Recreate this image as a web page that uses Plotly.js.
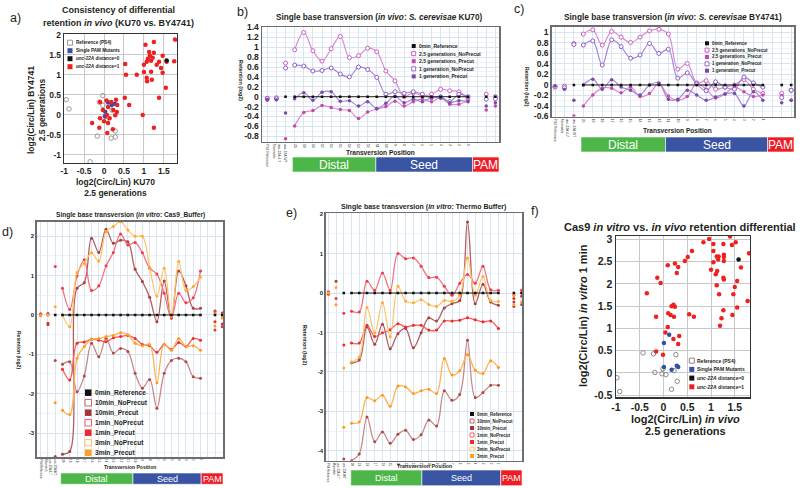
<!DOCTYPE html>
<html>
<head>
<meta charset="utf-8">
<script src="https://cdn.plot.ly/plotly-3.0.1.min.js"></script>
<style>body{margin:0;background:#fff}#chart{width:800px;height:488px}</style>
</head>
<body>
<div id="chart"></div>
<script>
const FONT = 'Liberation Sans, Arial, sans-serif';
const W = 800, H = 488;

// columns of the transversion panels (b-e): 3 controls, positions 20..1, gap, PAM
const colLabels = ['PS4 Reference', 'unc-22A 4-7<br>Mismatch', 'unc-22A WT',
  '20', '19', '18', '17', '16', '15', '14', '13', '12', '11', '10', '9', '8', '7', '6', '5', '4', '3', '2', '1',
  '', '', ''];
const regions = ['Distal', 'Seed', 'PAM'];
const regionColors = ['#4cb748', '#3a54a4', '#ee1d25'];

// a) KU70 vs BY4741
const aRefX = [-0.95, -0.88, -0.03, -0.12, -0.03, 0.2, 0.05, 0.28, 0.28, 0.18, -0.17, -0.35];
const aRefY = [0.38, 0.15, 0.48, 0.32, 0.24, 0.12, -0.14, -0.4, -0.55, -0.58, -0.53, -1.17];
const aPamX = [0.1, 0.27, 0.03, 0.02, 0.19];
const aPamY = [0.31, 0.28, 0.08, -0.03, 0.25];
const aDist0X = [1.57];
const aDist0Y = [1.36];
const aDist1X = [1.04, 1.25, 1.13, 1.25, 1.15, 1.22, 1.1, 1.47, 1.07, 1.18, 1.38, 1.57, 1.0, 1.32, 1.43, 1.18, 1.47, 1.0, 0.55, 0.82,
  1.07, 1.08, 1.2, 0.53, 1.55, 1.38, 0.97, 1.25, 0.52, 0.63, 0.3, -0.1, 0.06, 0.18, 0.33, 0.1, 0.23, 0.32, -0.03, 0.07,
  0.28, -0.1, 0.14, 0.0, 0.1, -0.3, -0.12, 0.08, 0.22, 1.78, 1.76];
const aDist1Y = [1.75, 1.82, 1.57, 1.55, 1.48, 1.43, 1.4, 1.48, 1.33, 1.35, 1.33, 1.33, 1.25, 1.25, 1.17, 1.08, 1.05, 1.07, 1.0, 1.0,
  0.93, 0.84, 0.88, 1.27, 0.68, 0.43, 0.0, -0.32, 0.43, 0.25, 0.38, 0.32, 0.36, 0.32, 0.25, 0.2, 0.12, 0.07, 0.12, 0.0,
  -0.01, -0.08, -0.08, -0.16, -0.2, -0.2, -0.32, -0.45, -0.36, 1.88, 1.34];
const aXTicks = [-1, -0.5, 0, 0.5, 1, 1.5];
const aYTicks = [-1, -0.5, 0, 0.5, 1, 1.5, 2];

// reference row (0min / normalised)
const refVals = [null, null, 0, 0, 0, 0, 0, 0, 0, 0, 0, 0, 0, 0, 0, 0, 0, 0, 0, 0, 0, 0, 0, null, 0, 0];

// b) in vivo KU70
const bNo25 = [-0.04, -0.02, 0.68, 0.95, 1.30, 0.93, 0.72, 0.97, 1.22, 0.79, 0.83, 0.98, 0.91, 0.52, 0.32, 0.0, 0.08, 0.02, 0.05, 0.15, 0.12, 0.1, -0.05, null, 0.05, 0.0];
const bPre25 = [-0.07, -0.05, -0.85, -0.59, -0.32, -0.28, -0.18, -0.22, -0.26, -0.28, -0.44, -0.31, -0.25, -0.2, -0.09, -0.19, -0.1, -0.05, -0.1, -0.02, -0.15, -0.15, -0.08, null, -0.27, -0.19];
const bNo1 = [-0.03, -0.04, 0.58, 0.64, 0.62, 0.52, 0.53, 0.58, 0.46, 0.40, 0.6, 0.55, 0.39, 0.05, 0.1, 0.07, 0.1, 0.05, -0.02, 0.0, -0.1, 0.05, 0.0, null, -0.05, -0.04];
const bPre1 = [-0.05, -0.06, -0.33, -0.04, 0.08, -0.07, 0.09, 0.1, -0.09, -0.08, -0.19, -0.1, -0.24, -0.13, 0.01, -0.12, -0.05, -0.1, -0.02, -0.03, -0.12, -0.08, -0.1, null, -0.19, -0.12];
const bYTicks = [-0.8, -0.6, -0.4, -0.2, 0, 0.2, 0.4, 0.6, 0.8, 1, 1.2, 1.4];

// c) in vivo BY4741
const cNo25 = [-0.03, -0.02, 0.79, 0.97, 1.05, 0.76, 1.02, 0.91, 0.81, 0.91, 1.03, 1.06, 0.97, 0.3, 0.41, 0.04, 0.08, -0.08, -0.04, 0.0, 0.1, -0.08, -0.16, null, -0.16, -0.1];
const cPre25 = [-0.04, -0.06, -0.59, -0.4, -0.19, -0.06, -0.06, -0.15, -0.04, -0.22, -0.16, 0.03, -0.21, -0.29, -0.22, 0.03, -0.08, -0.25, -0.17, -0.04, -0.13, -0.22, -0.19, null, -0.2, -0.29];
const cNo1 = [-0.04, -0.05, 0.77, 0.76, 0.84, 0.38, 0.86, 0.73, 0.51, 0.57, 0.79, 0.6, 0.68, 0.13, 0.23, 0.02, -0.11, 0.06, -0.04, -0.08, 0.15, 0.04, -0.04, null, -0.24, -0.1];
const cPre1 = [-0.02, -0.08, -0.29, 0.0, 0.11, -0.08, 0.1, -0.04, -0.1, -0.19, 0.0, 0.04, -0.27, -0.27, -0.1, -0.19, -0.29, -0.23, -0.17, -0.16, -0.4, -0.13, -0.29, null, -0.34, -0.29];
const cYTicks = [-0.6, -0.4, -0.2, 0, 0.2, 0.4, 0.6, 0.8, 1];

// d) in vitro Cas9 buffer
const d10No = [0.02, 0.04, -3.6, -3.54, -3.47, 0.68, 0.82, 1.95, 1.59, 2.18, 1.82, 1.9, 1.86, 1.16, 0.85, 0.45, -0.17, 0.86, -0.08, 1.12, 0.74, 0.17, 0.17, null, 0.1, 0.05];
const d10Pre = [0.0, -0.25, -1.16, -1.25, -1.19, -1.95, -1.55, -0.72, -1.06, -0.59, -0.97, -0.85, -0.93, -1.48, -1.86, -1.64, -2.37, -1.48, -1.16, -1.1, -1.19, -1.57, -1.61, null, -0.38, -0.3];
const d1No = [0.03, 0.0, 1.23, 0.68, 0.14, 0.99, 1.4, 0.62, 0.74, 1.25, 1.59, 2.06, 1.78, 1.84, 1.58, 1.19, 1.04, 0.55, -0.08, 0.55, 0.31, 0.44, 1.12, null, 0.08, 0.02];
const d1Pre = [null, -0.21, null, -1.38, -1.65, -0.72, -0.69, -0.62, -0.64, -0.68, -0.58, -0.55, -0.52, -0.6, -0.75, -0.78, -0.95, -0.75, -0.88, -0.7, -0.8, -0.6, -0.64, null, -0.17, -0.23];
const d3No = [0.0, 0.0, 0.21, 0.0, -0.3, 1.08, 1.31, 1.58, 1.37, 2.12, 2.25, 2.37, 2.16, 2.0, 2.0, 1.21, 0.48, 1.19, -0.04, 1.36, 0.62, 0.72, 0.96, null, 0.03, 0.0];
const d3Pre = [-0.02, null, -2.23, -2.42, -2.53, -1.1, -0.8, -0.62, -0.6, -0.55, -0.52, -0.45, -0.5, -0.72, -0.78, -0.75, -1.72, -0.75, -0.9, -0.6, -0.8, -0.78, -0.9, null, -0.28, -0.08];
const dYTicks = [-3, -2, -1, 0, 1, 2];

// e) in vitro Thermo buffer
const e10No = [null, 0.3, null, -1.77, -1.7, -0.86, -1.3, -0.79, -1.41, -1.03, -0.9, -1.39, -1.01, -0.63, -0.71, -0.38, -0.27, -0.19, 1.8, -0.27, 0.22, -0.23, -0.31, null, -0.23, -0.08];
const e10Pre = [null, null, -4.21, -4.25, -4.08, -3.14, -3.77, -3.52, -3.81, -3.58, -3.48, -3.71, -3.59, -3.22, -3.37, -2.48, -2.72, -2.57, -1.2, -2.65, -2.52, -2.34, -2.34, null, -0.34, -0.29];
const e1No = [0.03, -0.14, -0.51, -0.46, -0.48, 0.3, 0.07, 0.51, 0.07, 1.0, 0.87, 0.89, 0.68, 0.39, 0.4, 0.17, -0.06, 0.25, 0.47, 0.25, 0.68, 0.08, 0.07, null, -0.06, 0.07];
const e1Pre = [-0.03, null, -1.32, -1.27, -1.27, -0.82, -1.1, -1.01, -0.93, -0.78, -0.86, -0.82, -0.82, -0.94, -0.94, -0.71, -0.71, -0.69, -0.63, -0.68, -0.73, -0.71, -0.9, null, -0.14, 0.0];
const e3No = [0.0, 0.14, -1.9, -1.75, -1.62, -0.37, -1.01, -0.25, -1.11, 0.17, -0.2, -0.25, -0.17, -0.29, -0.34, -0.19, -0.21, -0.06, 0.89, -0.06, 0.42, -0.19, -0.21, null, -0.06, 0.0];
const e3Pre = [null, -0.3, -3.4, -3.3, -3.27, -2.65, -2.73, -2.59, -2.87, -2.36, -2.38, -2.55, -2.48, -2.44, -2.55, -1.66, -2.08, -1.97, -1.56, -1.96, -2.04, -1.72, -1.89, null, -0.3, -0.23];
const eYTicks = [-4, -3, -2, -1, 0, 1, 2];

// f) in vitro vs in vivo
const fRefX = [-0.98, -0.92, -0.43, -0.21, -0.18, -0.03, 0.05, -0.01, 0.22, 0.26, 0.29, 0.17];
const fRefY = [-0.11, -0.42, 0.45, 0.43, 0.01, -0.02, -0.04, 0.09, 0.05, 0.41, -0.19, -0.37];
const fPamX = [0.12, 0.01, 0.01, 0.17, 0.28, 0.31];
const fPamY = [0.86, 0.67, 0.13, 0.07, 0.16, 0.13];
const fDist0X = [1.58];
const fDist0Y = [2.55];
const fDist1X = [-0.35, -0.155, -0.13, -0.06, 0.09, 0.1, 0.15, 0.17, 0.21, 0.24, 0.22, 0.24, 0.31, 0.28, 0.09, 0.04, 0.21, 0.33, 0.31, 0.45,
  0.51, 0.6, 0.54, 0.64, 0.84, 0.96, 1.05, 1.05, 1.05, 1.0, 1.1, 1.12, 1.15, 1.13, 1.16, 1.12, 1.17, 1.26, 1.27, 1.27,
  1.27, 1.26, 1.27, 1.26, 1.22, 1.19, 1.4, 1.44, 1.52, 1.5, 1.55, 1.47, 1.45, 1.55, 1.63, 1.8, 1.77, -0.155, -0.01];
const fDist1Y = [1.79, 1.26, 2.14, 2.02, 2.42, 1.34, 1.3, 1.5, 1.53, 1.49, 1.26, 2.46, 2.38, 2.25, 1.03, 0.91, 0.76, 0.83, 0.65, 2.52,
  2.61, 2.74, 1.32, 1.26, 2.94, 3.01, 2.9, 2.74, 2.49, 2.32, 2.22, 2.62, 2.55, 2.29, 2.62, 1.97, 1.77, 2.9, 2.66, 2.61,
  2.52, 2.14, 2.1, 1.41, 1.23, 1.06, 3.07, 2.88, 2.94, 1.93, 2.07, 1.77, 1.3, 1.47, 2.37, 2.69, 1.62, 0.48, 0.41];
const fXTicks = [-1, -0.5, 0, 0.5, 1, 1.5];
const fYTicks = [-0.5, 0, 0.5, 1, 1.5, 2, 2.5, 3];

// plot boxes in pixels: [left, top, right, bottom]
const box = {
  a: [64, 34, 177, 163],
  b: [262, 27, 499, 141.7],
  c: [551.7, 26.7, 794, 116.5],
  d: [36.7, 221.7, 223, 457],
  e: [325.7, 213.3, 522, 460.7],
  f: [615.7, 236, 750, 397.3]
};

const layout = {
  width: W, height: H, margin: {l: 0, r: 0, t: 0, b: 0},
  paper_bgcolor: '#fff', plot_bgcolor: '#fff', showlegend: false,
  font: {family: FONT}
};
const shapes = [];
const ann = [];
const traces = [];

const axName = (p, n) => p + (n === 1 ? '' : n);
const dom = b => ({x: [b[0] / W, b[2] / W], y: [1 - b[3] / H, 1 - b[1] / H]});

function label(x, y, t, size, opt) {
  opt = opt || {};
  ann.push({
    xref: 'paper', yref: 'paper', x: x / W, y: 1 - y / H, text: t, showarrow: false,
    xanchor: opt.anchor || 'center', yanchor: 'middle', textangle: opt.angle || 0,
    font: {family: FONT, size: size, color: opt.color || '#231f20', weight: opt.normal ? 'normal' : 'bold'}
  });
}

function scatterAxes(n, b, xr, yr, xt, yt, size) {
  const d = dom(b);
  const common = {
    showgrid: true, gridcolor: '#c8c8c8', gridwidth: 1, zeroline: false, showline: true, mirror: true,
    linecolor: '#333', linewidth: 1.2, ticks: '', tickmode: 'array', fixedrange: true,
    tickfont: {family: FONT, size: size, color: '#231f20', weight: 'bold'}
  };
  layout[axName('xaxis', n)] = Object.assign({}, common, {domain: d.x, anchor: axName('y', n), range: xr, tickvals: xt, ticktext: xt.map(String)});
  layout[axName('yaxis', n)] = Object.assign({}, common, {domain: d.y, anchor: axName('x', n), range: yr, tickvals: yt, ticktext: yt.map(String)});
}

function transAxes(n, b, xr, yr, yt, minorStep, tickSize, catSize) {
  const d = dom(b);
  layout[axName('xaxis', n)] = {
    domain: d.x, anchor: axName('y', n), range: xr, tickmode: 'array',
    tickvals: colLabels.map((_, i) => i), ticktext: colLabels, tickangle: 90,
    tickfont: {family: FONT, size: catSize, color: '#333'},
    showgrid: true, gridcolor: '#dbe5f1', zeroline: false, showline: true, mirror: true,
    linecolor: '#6d6e71', linewidth: 1.5, ticks: '', fixedrange: true
  };
  layout[axName('yaxis', n)] = {
    domain: d.y, anchor: axName('x', n), range: yr, tickmode: 'array', tickvals: yt, ticktext: yt.map(String),
    tickfont: {family: FONT, size: tickSize, color: '#231f20', weight: 'bold'},
    showgrid: true, gridcolor: '#d6e2f0', minor: {tick0: 0, dtick: minorStep, showgrid: true, gridcolor: '#eef3fa'},
    zeroline: false, showline: true, mirror: true, linecolor: '#6d6e71', linewidth: 1.5, ticks: '', fixedrange: true
  };
}

function dots(n, xs, ys, marker) {
  traces.push({type: 'scatter', mode: 'markers', x: xs, y: ys, xaxis: axName('x', n), yaxis: axName('y', n), marker: marker, hoverinfo: 'skip'});
}

function series(n, vals, st) {
  const lx = [], ly = [], mx = [], my = [];
  vals.forEach((v, i) => {
    if (v === null) return;
    if (i >= 3 && i <= 22) { lx.push(i); ly.push(v); } else { mx.push(i); my.push(v); }
  });
  const marker = {size: st.ms, color: st.fill, symbol: st.sym || 'circle', line: {color: st.edge || st.fill, width: st.mlw || 0}};
  traces.push({type: 'scatter', mode: 'lines+markers', x: lx, y: ly, xaxis: axName('x', n), yaxis: axName('y', n),
    line: {color: st.line, width: st.lw, shape: st.shape || 'spline', smoothing: 1}, marker: marker, hoverinfo: 'skip'});
  traces.push({type: 'scatter', mode: 'markers', x: mx, y: my, xaxis: axName('x', n), yaxis: axName('y', n), marker: marker, hoverinfo: 'skip'});
}

function legend(items, sx, sy, step, sq, size) {
  items.forEach((it, i) => {
    const cy = sy + i * step;
    shapes.push({type: 'rect', xref: 'paper', yref: 'paper', x0: sx / W, x1: (sx + sq) / W,
      y0: 1 - (cy + sq / 2) / H, y1: 1 - (cy - sq / 2) / H,
      fillcolor: it.open ? '#fff' : it.color, line: {color: it.color, width: it.open ? 1 : 0}});
    label(sx + sq + 1, cy, it.name, size, {anchor: 'left'});
  });
}

function regionBar(n, edges, top, bottom, size) {
  regions.forEach((r, i) => {
    shapes.push({type: 'rect', xref: axName('x', n), yref: 'paper', x0: edges[i], x1: edges[i + 1],
      y0: 1 - bottom / H, y1: 1 - top / H, fillcolor: regionColors[i], line: {width: 0.6, color: '#fff'}});
    ann.push({xref: axName('x', n), yref: 'paper', x: (edges[i] + edges[i + 1]) / 2, y: 1 - (top + bottom) / 2 / H,
      text: r, showarrow: false, yanchor: 'middle', font: {family: FONT, size: size, color: '#fff'}});
  });
}

// ---------- a ----------
scatterAxes(1, box.a, [-1.005, 1.83], [-1.2, 2.02], aXTicks, aYTicks, 8.5);
dots(1, aRefX, aRefY, {symbol: 'circle-open', size: 4.5, color: '#9a9a9a', line: {width: 1}});
dots(1, aPamX, aPamY, {size: 4.5, color: '#3450a8'});
dots(1, aDist1X, aDist1Y, {size: 4.5, color: '#ee2020'});
dots(1, aDist0X, aDist0Y, {size: 4.5, color: '#111'});
label(15, 18, 'a)', 12.5, {normal: true});
label(118, 10, 'Consistency of differential', 9);
label(118, 23, 'retention <i>in vivo</i> (KU70 vs. BY4741)', 9);
label(37, 110, 'log2(Circ/Lin) BY4741<br>2.5 generations', 8.5, {angle: -90});
label(116, 187, 'log2(Circ/Lin) KU70<br>2.5 generations', 8.5);
legend([
  {name: 'Reference (PS4)', color: '#999', open: true},
  {name: 'Single PAM Mutants', color: '#3450a8'},
  {name: '<i>unc-22A</i> distance=0', color: '#111'},
  {name: '<i>unc-22A</i> distance=1', color: '#ee2020'}
], 67.5, 42.7, 8, 5, 4.6);

// ---------- b & c (in vivo) ----------
const vivoStyles = [
  {line: '#da8ad3', fill: '#fff', edge: '#cc5fc3', mlw: 1, ms: 4, lw: 1.2},
  {line: '#da8ad3', fill: '#c24aa9', ms: 3.5, lw: 1.2},
  {line: '#a586d8', fill: '#fff', edge: '#8a5fc8', mlw: 1, ms: 4, lw: 1.2},
  {line: '#a586d8', fill: '#7a4aa8', ms: 3.5, lw: 1.2}
];
const refStyle = {line: '#222', fill: '#111', sym: 'square', ms: 2.6, lw: 1, shape: 'linear'};
const vivoLegend = [
  {name: '0min_Reference', color: '#111'},
  {name: '2.5 generations_NoPrecut', color: '#d35ec8', open: true},
  {name: '2.5 generations_Precut', color: '#c24aa9'},
  {name: '1 generation_NoPrecut', color: '#9a6acd', open: true},
  {name: '1 generation_Precut', color: '#7a4aa8'}
];

transAxes(2, box.b, [-0.58, 25.4], [-0.91, 1.41], bYTicks, 0.1, 8.5, 3.4);
[bNo25, bPre25, bNo1, bPre1].forEach((v, i) => series(2, v, vivoStyles[i]));
series(2, refVals, refStyle);
regionBar(2, [2.75, 11.9, 22.5, 25.4], 157, 172, 12);
label(242, 12, 'b)', 12.5, {normal: true});
label(379, 17, 'Single base transversion (<i>in vivo</i>: <i>S. cerevisae</i> KU70)', 8.2);
label(380, 152, 'Transversion Position', 6.6);
label(241, 80, 'Retention (log2)', 5.4, {angle: 90});
legend(vivoLegend, 411.7, 46, 7.6, 4, 5);

transAxes(3, box.c, [-0.35, 25.3], [-0.6, 1.11], cYTicks, 0.1, 8.5, 3.4);
[cNo25, cPre25, cNo1, cPre1].forEach((v, i) => series(3, v, vivoStyles[i]));
series(3, refVals, refStyle);
regionBar(3, [2.75, 11.7, 22.5, 25.3], 137, 152, 12);
label(519, 9, 'c)', 12.5, {normal: true});
label(673, 17, 'Single base transversion (<i>in vivo</i>: <i>S. cerevisae</i> BY4741)', 8.3);
label(677, 130, 'Transversion Position', 6.6);
label(527, 87, 'Retention (log2)', 5.2, {angle: 90});
legend(vivoLegend, 705, 43.3, 6.85, 4, 4.5);

// ---------- d & e (in vitro) ----------
const vitroStyles = [
  {line: '#b65c5c', fill: '#a84040', ms: 3, lw: 1.3},
  {line: '#c98787', fill: '#b04848', ms: 3, lw: 1.3},
  {line: '#f2737e', fill: '#ee3a4a', ms: 3, lw: 1.3},
  {line: '#f25c5c', fill: '#ee2a2a', ms: 3, lw: 1.3},
  {line: '#ffc66c', fill: '#ffaa30', ms: 3, lw: 1.3},
  {line: '#ffb24e', fill: '#ff9a20', ms: 3, lw: 1.3}
];
const vitroLegend = [
  {name: '0min_Reference', color: '#111'},
  {name: '10min_NoPrecut', color: '#c26868', open: true},
  {name: '10min_Precut', color: '#a83434'},
  {name: '1min_NoPrecut', color: '#f0606f', open: true},
  {name: '1min_Precut', color: '#ee2a2a'},
  {name: '3min_NoPrecut', color: '#ffc36b', open: true},
  {name: '3min_Precut', color: '#ffa020'}
];

transAxes(4, box.d, [-0.55, 25.1], [-3.61, 2.37], dYTicks, 0.5, 6, 2.9);
[d10No, d10Pre, d1No, d1Pre, d3No, d3Pre].forEach((v, i) => series(4, v, vitroStyles[i]));
series(4, refVals, refStyle);
regionBar(4, [2.75, 12.7, 22.1, 25.1], 473, 484.3, 9);
label(7, 232, 'd)', 12.5, {normal: true});
label(130, 215, 'Single base transversion (<i>in vitro</i>: Cas9_Buffer)', 6.6);
label(130, 466.5, 'Transversion Position', 5);
label(19, 350, 'Retention (log2)', 5, {angle: 90});
legend(vitroLegend, 85, 392.7, 10, 6.5, 6.6);

transAxes(5, box.e, [-0.34, 25.05], [-4.25, 2.02], eYTicks, 0.5, 6, 2.9);
[e10No, e10Pre, e1No, e1Pre, e3No, e3Pre].forEach((v, i) => series(5, v, vitroStyles[i]));
series(5, refVals, refStyle);
regionBar(5, [2.9, 12.1, 22.3, 25.05], 470, 485.7, 9);
label(291, 213, 'e)', 12.5, {normal: true});
label(423, 207, 'Single base transversion (<i>in vitro</i>: Thermo Buffer)', 7);
label(424, 466, 'Transversion Position', 5.3);
label(305, 345, 'Retention (log2)', 5.3, {angle: 90});
legend(vitroLegend, 470, 414, 7, 4, 4.5);

// ---------- f ----------
scatterAxes(6, box.f, [-1.005, 1.82], [-0.55, 3.08], fXTicks, fYTicks, 10.5);
dots(6, fRefX, fRefY, {symbol: 'circle-open', size: 4.5, color: '#8a8a8a', line: {width: 1}});
dots(6, fPamX, fPamY, {size: 4.5, color: '#3450a8'});
dots(6, fDist1X, fDist1Y, {size: 4.5, color: '#ee2020'});
dots(6, fDist0X, fDist0Y, {size: 4.5, color: '#111'});
label(535, 211, 'f)', 12.5, {normal: true});
label(680, 227, 'Cas9 <i>in vitro</i> vs. <i>in vivo</i> retention differential', 11);
label(583, 316, 'log2(Circ/Lin) <i>in vitro</i> 1 min', 11, {angle: -90});
label(685, 419, 'log2(Circ/Lin) <i>in vivo</i>', 11);
label(685, 431, '2.5 generations', 11);
legend([
  {name: 'Reference (PS4)', color: '#888', open: true},
  {name: 'Single PAM Mutants', color: '#3450a8'},
  {name: '<i>unc-22A</i> distance=0', color: '#111'},
  {name: '<i>unc-22A</i> distance=1', color: '#ee2020'}
], 689.3, 360.7, 8.7, 5, 5);

layout.shapes = shapes;
layout.annotations = ann;

Plotly.newPlot('chart', traces, layout, {displayModeBar: false, staticPlot: true});
</script>
</body>
</html>
